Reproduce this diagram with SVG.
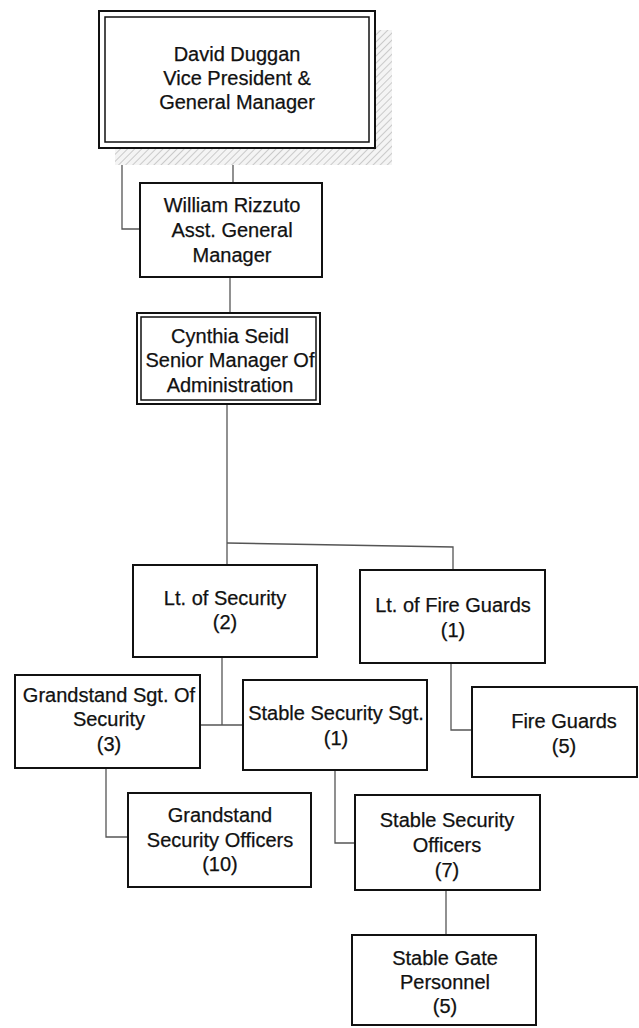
<svg xmlns="http://www.w3.org/2000/svg" width="639" height="1028" viewBox="0 0 639 1028">
<defs>
<pattern id="hatch" patternUnits="userSpaceOnUse" width="5" height="5" patternTransform="rotate(45)">
<rect width="5" height="5" fill="#f4f4f4"/>
<line x1="0" y1="0" x2="0" y2="5" stroke="#cacaca" stroke-width="2"/>
</pattern>
<style>
.box{fill:#fff;stroke:#111;stroke-width:2}
.inner{fill:none;stroke:#111;stroke-width:1.5}
.conn{fill:none;stroke:#555;stroke-width:1.3}
text{font-family:"Liberation Sans",Arial,sans-serif;font-size:20px;fill:#111;stroke:#111;stroke-width:0.25;text-anchor:middle}
</style>
</defs>
<rect width="639" height="1028" fill="#fff"/>
<g id="connectors">
<path class="conn" d="M233,148 V183"/>
<path class="conn" d="M233,163 H122 V229 H140"/>
<path class="conn" d="M230,277 V313"/>
<path class="conn" d="M227,404 V565"/>
<path class="conn" d="M227,543 L453,547 V570"/>
<path class="conn" d="M222,657 V725"/>
<path class="conn" d="M200,725 H243"/>
<path class="conn" d="M451,663 V730 H472"/>
<path class="conn" d="M106,768 V837 H128"/>
<path class="conn" d="M335,770 V843 H355"/>
<path class="conn" d="M446,890 V935"/>
</g>
<g id="node-duggan">
<rect x="115" y="30" width="277" height="135" fill="url(#hatch)"/>
<rect class="box" x="99" y="11" width="276" height="137" stroke-width="2.5"/>
<rect class="inner" x="105" y="17" width="264" height="125"/>
<text x="237" y="61">David Duggan</text>
<text x="237" y="85">Vice President &amp;</text>
<text x="237" y="109">General Manager</text>
</g>
<g id="node-rizzuto">
<rect class="box" x="140" y="183" width="182" height="94"/>
<text x="232" y="212">William Rizzuto</text>
<text x="232" y="237">Asst. General</text>
<text x="232" y="262">Manager</text>
</g>
<g id="node-seidl">
<rect class="box" x="137" y="313" width="183" height="91"/>
<rect class="inner" x="141" y="317" width="175" height="83"/>
<text x="230" y="343">Cynthia Seidl</text>
<text x="230" y="367">Senior Manager Of</text>
<text x="230" y="392">Administration</text>
</g>
<g id="node-lt-security">
<rect class="box" x="133" y="565" width="184" height="92"/>
<text x="225" y="605">Lt. of Security</text>
<text x="225" y="629">(2)</text>
</g>
<g id="node-lt-fire">
<rect class="box" x="360" y="570" width="185" height="93"/>
<text x="453" y="612">Lt. of Fire Guards</text>
<text x="453" y="637">(1)</text>
</g>
<g id="node-grandstand-sgt">
<rect class="box" x="15" y="675" width="185" height="93"/>
<text x="109" y="702">Grandstand Sgt. Of</text>
<text x="109" y="726">Security</text>
<text x="109" y="751">(3)</text>
</g>
<g id="node-stable-sgt">
<rect class="box" x="243" y="680" width="184" height="90"/>
<text x="336" y="720">Stable Security Sgt.</text>
<text x="336" y="745">(1)</text>
</g>
<g id="node-fire-guards">
<rect class="box" x="472" y="687" width="165" height="90"/>
<text x="564" y="728">Fire Guards</text>
<text x="564" y="753">(5)</text>
</g>
<g id="node-grandstand-officers">
<rect class="box" x="128" y="793" width="183" height="94"/>
<text x="220" y="822">Grandstand</text>
<text x="220" y="847">Security Officers</text>
<text x="220" y="871">(10)</text>
</g>
<g id="node-stable-officers">
<rect class="box" x="355" y="795" width="185" height="95"/>
<text x="447" y="827">Stable Security</text>
<text x="447" y="852">Officers</text>
<text x="447" y="877">(7)</text>
</g>
<g id="node-stable-gate">
<rect class="box" x="352" y="935" width="184" height="90"/>
<text x="445" y="965">Stable Gate</text>
<text x="445" y="989">Personnel</text>
<text x="445" y="1013">(5)</text>
</g>
</svg>
